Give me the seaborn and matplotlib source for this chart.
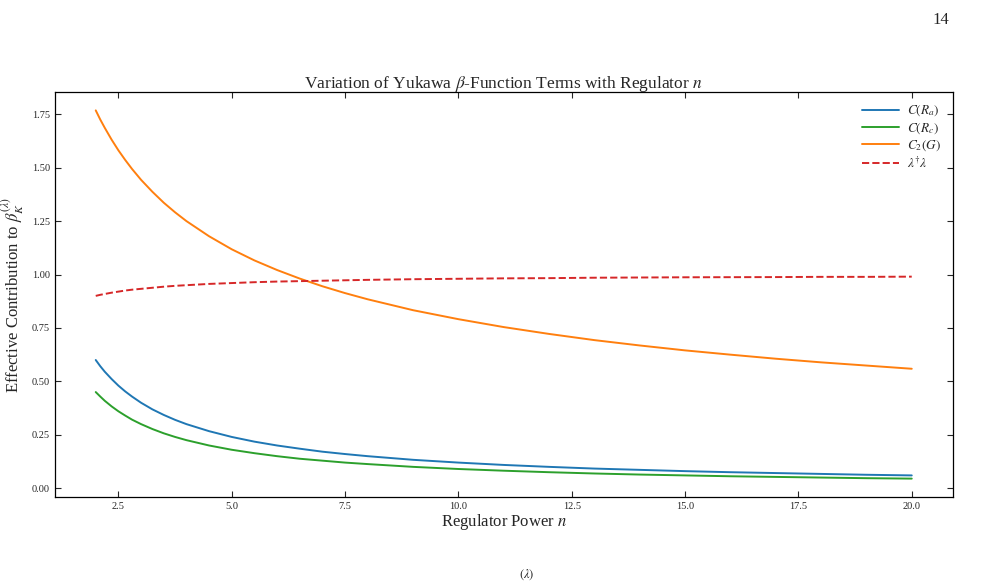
import pandas as pd
import matplotlib
matplotlib.use("Agg")
import matplotlib.pyplot as plt
import seaborn as sns

# values
n_vals = [2, 2.1, 2.2, 2.35, 2.5, 2.65, 2.8, 3, 3.25, 3.5, 3.75, 4, 4.5, 5,
          5.5, 6, 6.5, 7, 7.5, 8, 9, 10, 11, 12, 13, 14, 15, 16, 17, 18, 19, 20]
c_ra = [0.600, 0.571, 0.545, 0.511, 0.480, 0.453, 0.429, 0.400, 0.369, 0.343,
        0.320, 0.300, 0.267, 0.240, 0.218, 0.200, 0.185, 0.171, 0.160, 0.150,
        0.133, 0.120, 0.109, 0.100, 0.092, 0.086, 0.080, 0.075, 0.071, 0.067,
        0.063, 0.060]
c_rc = [0.450, 0.429, 0.409, 0.383, 0.360, 0.340, 0.321, 0.300, 0.277, 0.257,
        0.240, 0.225, 0.200, 0.180, 0.164, 0.150, 0.138, 0.129, 0.120, 0.113,
        0.100, 0.090, 0.082, 0.075, 0.069, 0.064, 0.060, 0.056, 0.053, 0.050,
        0.047, 0.045]
c2_g = [1.768, 1.725, 1.686, 1.631, 1.581, 1.536, 1.494, 1.443, 1.387, 1.336,
        1.291, 1.250, 1.179, 1.118, 1.066, 1.021, 0.981, 0.945, 0.913, 0.884,
        0.833, 0.791, 0.754, 0.722, 0.693, 0.668, 0.645, 0.625, 0.606, 0.589,
        0.574, 0.559]
lam_lam = [0.900, 0.905, 0.909, 0.915, 0.920, 0.925, 0.929, 0.933, 0.938, 0.943,
           0.947, 0.950, 0.956, 0.960, 0.964, 0.967, 0.969, 0.971, 0.973, 0.975,
           0.978, 0.980, 0.982, 0.983, 0.985, 0.986, 0.987, 0.9875, 0.988, 0.989,
           0.989, 0.990]

series = [
    (c_ra, r'$C(R_a)$', 'tab:blue', '-'),
    (c_rc, r'$C(R_c)$', 'tab:green', '-'),
    (c2_g, r'$C_2(G)$', 'tab:orange', '-'),
    (lam_lam, r'$\lambda^{\dagger}\lambda$', 'tab:red', '--'),
]

sns.set_style("ticks")
plt.rcParams['font.family'] = ['Liberation Serif', 'DejaVu Serif']
plt.rcParams['mathtext.fontset'] = 'stix'

fig, ax = plt.subplots(figsize=(9.81, 5.82), dpi=100)
fig.subplots_adjust(left=0.056, right=0.971, top=0.842, bottom=0.146)

for vals, label, color, ls in series:
    df = pd.DataFrame({'n': n_vals, 'v': vals})
    sns.lineplot(data=df, x='n', y='v', ax=ax, color=color, linestyle=ls,
                 linewidth=1.4, label=label)

ax.set_title(r'Variation of Yukawa $\beta$-Function Terms with Regulator $n$',
             fontsize=12.5, pad=3)
ax.set_xlabel(r'Regulator Power $n$', fontsize=12, labelpad=1)
ax.set_ylabel(r'Effective Contribution to $\beta_K^{(\lambda)}$', fontsize=12, labelpad=4)
ax.set_xticks([2.5, 5.0, 7.5, 10.0, 12.5, 15.0, 17.5, 20.0])
ax.set_yticks([0.0, 0.25, 0.5, 0.75, 1.0, 1.25, 1.5, 1.75])
ax.set_yticklabels([f'{v:.2f}' for v in ax.get_yticks()])
ax.set_xticklabels([f'{v:.1f}' for v in ax.get_xticks()])
ax.tick_params(direction='in', top=True, right=True, labelsize=7.5, length=4, width=0.8)
for sp in ax.spines.values():
    sp.set_linewidth(0.9)
    sp.set_color('black')

ax.legend(frameon=False, fontsize=9.5, loc='upper right', handlelength=2.8,
          borderaxespad=0.5, labelspacing=0.2, handletextpad=0.6)

fig.text(0.968, 0.965, '14', fontsize=12, ha='right', va='center')
fig.text(0.537, 0.0, r'$(\lambda)$', fontsize=9, ha='center', va='bottom')

fig.savefig('out.png', dpi=100)
plt.close()
